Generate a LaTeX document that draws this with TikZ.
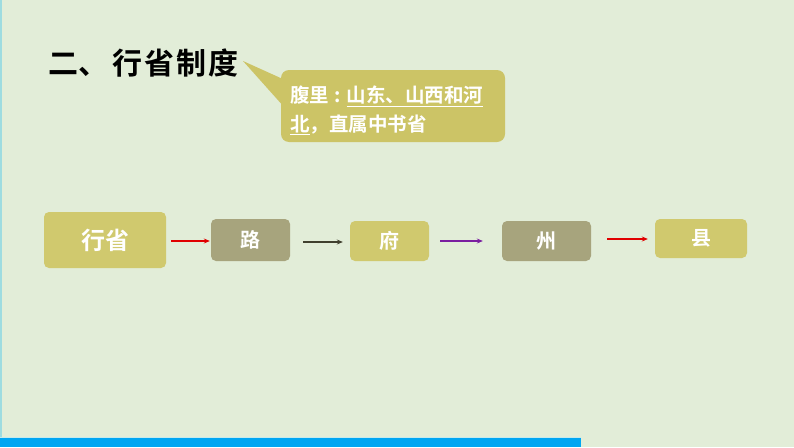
\documentclass[tikz,border=0pt]{standalone}
\usepackage{fontspec}
\newfontfamily\cjk{Noto Sans CJK SC}
\newfontfamily\cjkb{Noto Sans CJK SC Bold}
\usetikzlibrary{arrows.meta}
\definecolor{bgc}{HTML}{E2EDD8}
\definecolor{yel}{HTML}{D0C96E}
\definecolor{gry}{HTML}{A7A47D}
\definecolor{callc}{HTML}{CCC466}
\definecolor{barc}{HTML}{00A6F2}
\definecolor{edgec}{HTML}{9EDCE0}
\definecolor{redc}{HTML}{E00000}
\definecolor{darkc}{HTML}{40402E}
\definecolor{purc}{HTML}{7A1FA0}
\tikzset{
  box/.style={rounded corners=5pt, text=white, font=\cjkb\fontsize{20}{24}\selectfont, inner sep=0pt},
  ybox/.style={box, fill=yel},
  gbox/.style={box, fill=gry},
  arr/.style={-{Stealth[length=6pt,width=5pt]}, line width=1.2pt}
}
\begin{document}
\begin{tikzpicture}[x=1pt,y=-1pt]
\useasboundingbox (0,0) rectangle (794,447);
\fill[bgc] (0,0) rectangle (794,447);
\fill[edgec] (0,0) rectangle (1.5,447);
\fill[barc] (0,438) rectangle (581,447);
\draw[edgec!60!white, line width=0.8pt] (0,437.5) -- (581,437.5);
% title
\node[anchor=west, font=\cjkb\fontsize{30}{34}\selectfont, text=black, inner sep=0pt] (title) at (48,63) {二、\hspace{4pt}行\hspace{2pt}省\hspace{2pt}制\hspace{2pt}度};
% callout
\fill[callc] (243,61) -- (285,80) -- (285,108) -- cycle;
\node[fill=callc, rounded corners=8pt, minimum width=224pt, minimum height=72pt, inner sep=0pt] (call) at (393,106) {};
\node[anchor=north west, text=white, font=\cjkb\fontsize{19.5}{28.5}\selectfont, align=left, inner sep=0pt] (calltext) at (290,86) {腹里\hspace{5pt}:\hspace{6pt}\underline{山东、山西和河}\\\underline{北}，直属中书省};
% chain
\node[ybox, minimum width=122pt, minimum height=56pt, font=\cjkb\fontsize{24}{28}\selectfont] (xs) at (105,240) {行省};
\node[gbox, minimum width=79pt, minimum height=42pt] (lu) at (250.5,240) {路};
\node[ybox, minimum width=79pt, minimum height=40pt] (fu) at (389.5,241) {府};
\node[gbox, minimum width=89pt, minimum height=40pt] (zh) at (546.5,241) {州};
\node[ybox, minimum width=92pt, minimum height=39pt] (xi) at (701,238.5) {县};
\draw[arr, redc] ([xshift=5pt]xs.east |- 0,241) -- ([xshift=-1pt]lu.west |- 0,241);
\draw[arr, darkc] ([xshift=13pt]lu.east |- 0,242) -- ([xshift=-7pt]fu.west |- 0,242);
\draw[arr, purc] ([xshift=11pt]fu.east |- 0,241) -- ([xshift=-19pt]zh.west |- 0,241);
\draw[arr, redc] ([xshift=16pt]zh.east |- 0,239) -- ([xshift=-7pt]xi.west |- 0,239);
\end{tikzpicture}
\end{document}
